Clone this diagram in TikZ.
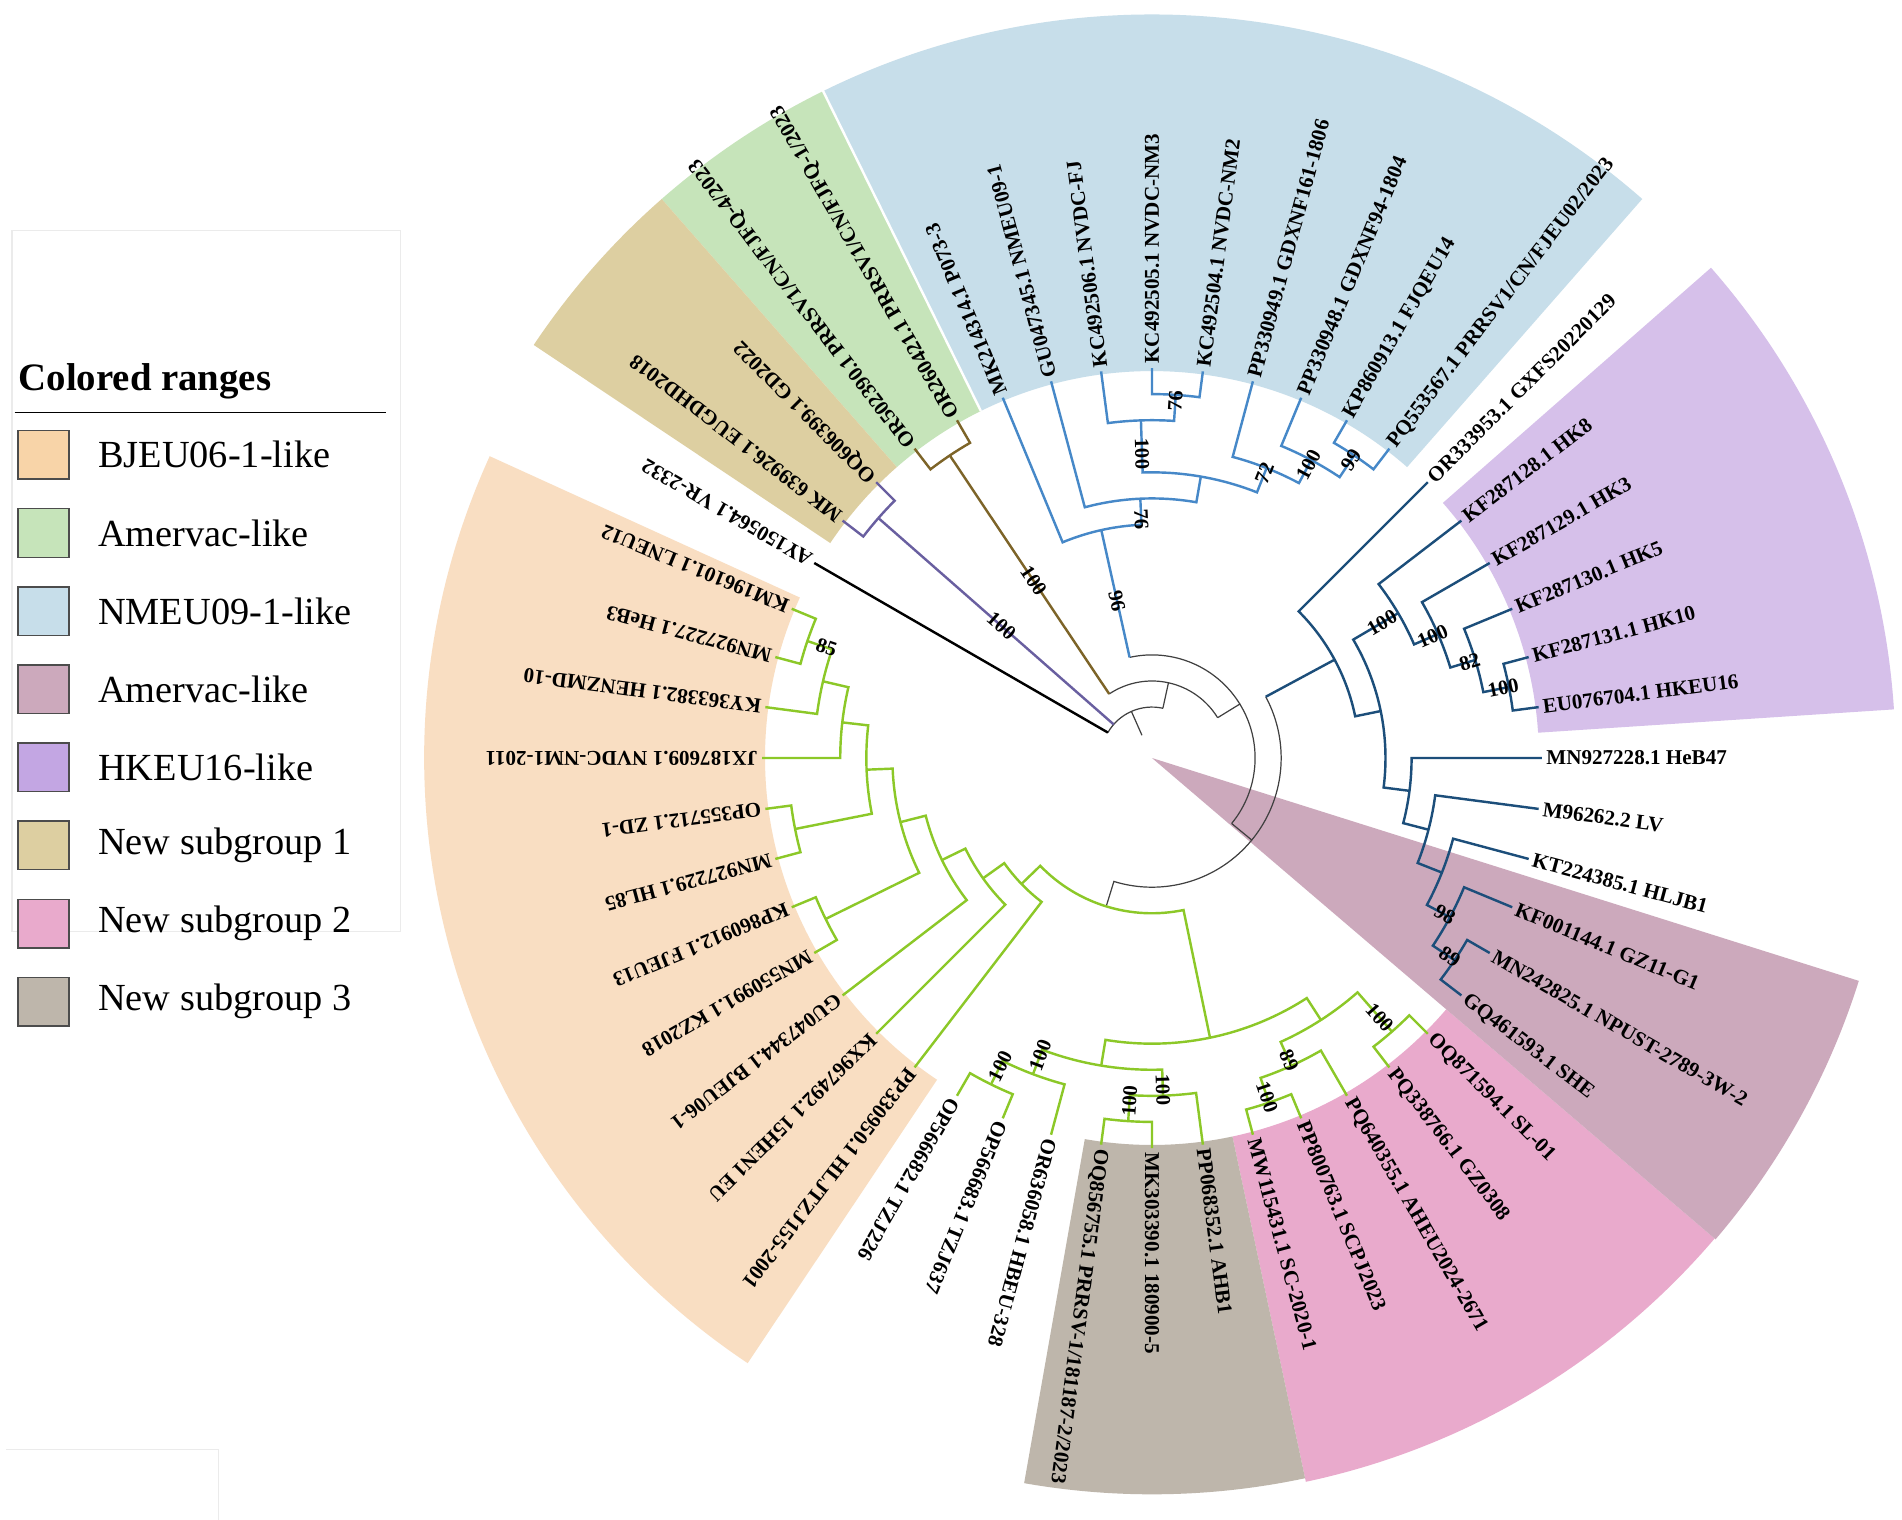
\documentclass[tikz,border=0pt]{standalone}
\usepackage{fontspec}
\setmainfont{Liberation Serif}
\usepackage{tikz}
\usetikzlibrary{positioning}

\definecolor{rangeBjeu}{HTML}{F9DEC2}
\definecolor{rangeAmer}{HTML}{C6E4BA}
\definecolor{rangeNmeu}{HTML}{C7DEEA}
\definecolor{rangeAmerB}{HTML}{CCA9BC}
\definecolor{rangeHkeu}{HTML}{D6C0EA}
\definecolor{rangeSubOne}{HTML}{DDCFA1}
\definecolor{rangeSubTwo}{HTML}{E9AACC}
\definecolor{rangeSubThree}{HTML}{BEB6AB}
\definecolor{keyBjeu}{HTML}{F8D4A8}
\definecolor{keyHkeu}{HTML}{C3A6E3}
\definecolor{lineSubOne}{RGB}{105,95,160}
\definecolor{lineAmer}{RGB}{125,100,40}
\definecolor{lineNmeu}{RGB}{70,136,200}
\definecolor{lineHkeu}{RGB}{28,78,122}
\definecolor{lineBjeu}{RGB}{140,200,40}

\begin{document}
\begin{tikzpicture}[
  x=0.5pt, y=0.5pt,
  trunk/.style={draw=black!75, line width=0.5pt},
  rootTip/.style={draw=black, line width=1pt},
  subOneLine/.style={draw=lineSubOne, line width=1pt},
  amerLine/.style={draw=lineAmer, line width=1pt},
  nmeuLine/.style={draw=lineNmeu, line width=1pt},
  hkeuLine/.style={draw=lineHkeu, line width=1pt},
  bjeuLine/.style={draw=lineBjeu, line width=1pt},
  leaf/.style={anchor=west, inner sep=0.6pt, font=\fontsize{8.7}{10}\selectfont\bfseries},
  boot/.style={inner sep=0pt, font=\fontsize{8.5}{9}\selectfont\bfseries},
  swatch/.style={draw=black!70, line width=0.6pt, minimum width=21pt, minimum height=20pt, inner sep=0pt},
  legendText/.style={anchor=west, inner sep=0pt, font=\fontsize{15.8}{18}\selectfont}
]

\useasboundingbox (-949.7,-628.1) rectangle (618.3,624.9);
\fill[white] (-949.7,-628.1) rectangle (618.3,624.9);

% colored ranges
\fill[rangeNmeu] (48.75:319) -- (48.75:613) arc[start angle=48.75, end angle=116.25, radius=613] -- (116.25:319) arc[start angle=116.25, end angle=48.75, radius=319] -- cycle;
\fill[rangeAmer] (116.25:319) -- (116.25:613) arc[start angle=116.25, end angle=131.25, radius=613] -- (131.25:319) arc[start angle=131.25, end angle=116.25, radius=319] -- cycle;
\fill[rangeSubOne] (131.25:319) -- (131.25:613) arc[start angle=131.25, end angle=146.25, radius=613] -- (146.25:319) arc[start angle=146.25, end angle=131.25, radius=319] -- cycle;
\fill[rangeBjeu] (155.5:319) -- (155.5:600) arc[start angle=155.5, end angle=236.25, radius=600] -- (236.25:319) arc[start angle=236.25, end angle=155.5, radius=319] -- cycle;
\fill[rangeHkeu] (3.75:319) -- (3.75:613) arc[start angle=3.75, end angle=41.25, radius=613] -- (41.25:319) arc[start angle=41.25, end angle=3.75, radius=319] -- cycle;
\fill[rangeSubTwo] (-40.5:319) -- (-40.5:610) arc[start angle=-40.5, end angle=-78, radius=610] -- (-78:319) arc[start angle=-78, end angle=-40.5, radius=319] -- cycle;
\fill[rangeSubThree] (-78:319) -- (-78:607) arc[start angle=-78, end angle=-100, radius=607] -- (-100:319) arc[start angle=-100, end angle=-78, radius=319] -- cycle;
\fill[rangeAmerB] (0,0) -- (-17.5:611) arc[start angle=-17.5, end angle=-40.5, radius=611] -- cycle;
\draw[white, line width=1pt] (116.25:319) -- (116.25:614);

% backbone
\draw[trunk] (113.83:20.5) -- (113.83:42);
\draw[trunk] (150:42) arc[start angle=150, end angle=77.6532, radius=42];
\draw[rootTip] (150:42) -- (150:321.5);
\draw[subOneLine] (138.75:42) -- (138.75:300);
\draw[trunk] (77.6532:42) -- (77.6532:63.5) arc[start angle=77.6532, end angle=31.5564, radius=63.5];
\draw[trunk] (77.6532:63.5) arc[start angle=77.6532, end angle=123.75, radius=63.5];
\draw[amerLine] (123.75:63.5) -- (123.75:300);
\draw[trunk] (31.5564:63.5) -- (31.5564:85) arc[start angle=31.5564, end angle=102.539, radius=85];
\draw[trunk] (31.5564:85) arc[start angle=31.5564, end angle=-39.4263, radius=85];
\draw[nmeuLine] (102.539:85) -- (102.539:192.5);
\draw[trunk] (-39.4263:85) -- (-39.4263:106.5) arc[start angle=-39.4263, end angle=28.3008, radius=106.5];
\draw[trunk] (-39.4263:106.5) arc[start angle=-39.4263, end angle=-107.1533, radius=106.5] -- (-107.1533:128);
\draw[hkeuLine] (28.3008:106.5) -- (28.3008:171);

% new subgroup 1 and Amervac-like
\draw[subOneLine] (142.5:321.5) -- (142.5:300) arc[start angle=142.5, end angle=135, radius=300] -- (135:321.5);
\draw[amerLine] (127.5:321.5) -- (127.5:300) arc[start angle=127.5, end angle=120, radius=300] -- (120:321.5);

% NMEU09-1-like clade
\draw[nmeuLine] (90:321.5) -- (90:300) arc[start angle=90, end angle=82.5, radius=300] -- (82.5:321.5);
\draw[nmeuLine] (97.5:321.5) -- (97.5:278.5) arc[start angle=97.5, end angle=86.25, radius=278.5] -- (86.25:300);
\draw[nmeuLine] (60:321.5) -- (60:300) arc[start angle=60, end angle=52.5, radius=300] -- (52.5:321.5);
\draw[nmeuLine] (67.5:321.5) -- (67.5:278.5) arc[start angle=67.5, end angle=56.25, radius=278.5] -- (56.25:300);
\draw[nmeuLine] (75:321.5) -- (75:257) arc[start angle=75, end angle=61.875, radius=257] -- (61.875:278.5);
\draw[nmeuLine] (91.875:278.5) -- (91.875:235.5) arc[start angle=91.875, end angle=68.4375, radius=235.5] -- (68.4375:257);
\draw[nmeuLine] (105:321.5) -- (105:214) arc[start angle=105, end angle=80.1563, radius=214] -- (80.1563:235.5);
\draw[nmeuLine] (112.5:321.5) -- (112.5:192.5) arc[start angle=112.5, end angle=92.5781, radius=192.5] -- (92.5781:214);

% HKEU16 and LV side
\draw[hkeuLine] (15:321.5) -- (15:300) arc[start angle=15, end angle=7.5, radius=300] -- (7.5:321.5);
\draw[hkeuLine] (22.5:321.5) -- (22.5:278.5) arc[start angle=22.5, end angle=11.25, radius=278.5] -- (11.25:300);
\draw[hkeuLine] (30:321.5) -- (30:257) arc[start angle=30, end angle=16.875, radius=257] -- (16.875:278.5);
\draw[hkeuLine] (37.5:321.5) -- (37.5:235.5) arc[start angle=37.5, end angle=23.4375, radius=235.5] -- (23.4375:257);
\draw[hkeuLine] (-30:321.5) -- (-30:300) arc[start angle=-30, end angle=-37.5, radius=300] -- (-37.5:321.5);
\draw[hkeuLine] (-22.5:321.5) -- (-22.5:278.5) arc[start angle=-22.5, end angle=-33.75, radius=278.5] -- (-33.75:300);
\draw[hkeuLine] (-15:321.5) -- (-15:257) arc[start angle=-15, end angle=-28.125, radius=257] -- (-28.125:278.5);
\draw[hkeuLine] (-7.5:321.5) -- (-7.5:235.5) arc[start angle=-7.5, end angle=-21.5625, radius=235.5] -- (-21.5625:257);
\draw[hkeuLine] (0:321.5) -- (0:214) arc[start angle=0, end angle=-14.5313, radius=214] -- (-14.5313:235.5);
\draw[hkeuLine] (30.4688:235.5) -- (30.4688:192.5) arc[start angle=30.4688, end angle=-7.2656, radius=192.5] -- (-7.2656:214);
\draw[hkeuLine] (45:321.5) -- (45:171) arc[start angle=45, end angle=11.6016, radius=171] -- (11.6016:192.5);

% BJEU06-1-like and new subgroups 2, 3
\draw[bjeuLine] (-45:321.5) -- (-45:300) arc[start angle=-45, end angle=-52.5, radius=300] -- (-52.5:321.5);
\draw[bjeuLine] (-67.5:321.5) -- (-67.5:300) arc[start angle=-67.5, end angle=-75, radius=300] -- (-75:321.5);
\draw[bjeuLine] (-60:321.5) -- (-60:278.5) arc[start angle=-60, end angle=-71.25, radius=278.5] -- (-71.25:300);
\draw[bjeuLine] (-48.75:300) -- (-48.75:257) arc[start angle=-48.75, end angle=-65.625, radius=257] -- (-65.625:278.5);
\draw[bjeuLine] (-90:321.5) -- (-90:300) arc[start angle=-90, end angle=-97.5, radius=300] -- (-97.5:321.5);
\draw[bjeuLine] (-82.5:321.5) -- (-82.5:278.5) arc[start angle=-82.5, end angle=-93.75, radius=278.5] -- (-93.75:300);
\draw[bjeuLine] (-112.5:321.5) -- (-112.5:300) arc[start angle=-112.5, end angle=-120, radius=300] -- (-120:321.5);
\draw[bjeuLine] (-105:321.5) -- (-105:278.5) arc[start angle=-105, end angle=-116.25, radius=278.5] -- (-116.25:300);
\draw[bjeuLine] (-88.125:278.5) -- (-88.125:257) arc[start angle=-88.125, end angle=-110.625, radius=257] -- (-110.625:278.5);
\draw[bjeuLine] (-57.1875:257) -- (-57.1875:235.5) arc[start angle=-57.1875, end angle=-99.375, radius=235.5] -- (-99.375:257);
\draw[bjeuLine] (-195:321.5) -- (-195:300) arc[start angle=-195, end angle=-202.5, radius=300] -- (-202.5:321.5);
\draw[bjeuLine] (-187.5:321.5) -- (-187.5:278.5) arc[start angle=-187.5, end angle=-198.75, radius=278.5] -- (-198.75:300);
\draw[bjeuLine] (-180:321.5) -- (-180:257) arc[start angle=-180, end angle=-193.125, radius=257] -- (-193.125:278.5);
\draw[bjeuLine] (-172.5:321.5) -- (-172.5:300) arc[start angle=-172.5, end angle=-165, radius=300] -- (-165:321.5);
\draw[bjeuLine] (-168.75:300) -- (-168.75:235.5) arc[start angle=-168.75, end angle=-186.5625, radius=235.5] -- (-186.5625:257);
\draw[bjeuLine] (-157.5:321.5) -- (-157.5:300) arc[start angle=-157.5, end angle=-150, radius=300] -- (-150:321.5);
\draw[bjeuLine] (-153.75:300) -- (-153.75:214) arc[start angle=-153.75, end angle=-177.6563, radius=214] -- (-177.6563:235.5);
\draw[bjeuLine] (-142.5:321.5) -- (-142.5:192.5) arc[start angle=-142.5, end angle=-165.7031, radius=192.5] -- (-165.7031:214);
\draw[bjeuLine] (-135:321.5) -- (-135:171) arc[start angle=-135, end angle=-154.1016, radius=171] -- (-154.1016:192.5);
\draw[bjeuLine] (-127.5:321.5) -- (-127.5:149.5) arc[start angle=-127.5, end angle=-144.5508, radius=149.5] -- (-144.5508:171);
\draw[bjeuLine] (-136.0254:149.5) -- (-136.0254:128) arc[start angle=-136.0254, end angle=-78.2813, radius=128] -- (-78.2813:235.5);

% leaf labels
\node[leaf, rotate=150] (leafAy150564) at (150:323.5) {AY150564.1 VR-2332};
\node[leaf, rotate=142.5] (leafMk639926) at (142.5:323.5) {MK 639926.1 EUGDHD2018};
\node[leaf, rotate=135] (leafOq606399) at (135:323.5) {OQ606399.1 GD2022};
\node[leaf, rotate=127.5] (leafOr502390) at (127.5:323.5) {OR502390.1 PRRSV1/CN/FJFQ-4/2023};
\node[leaf, rotate=120] (leafOr260421) at (120:323.5) {OR260421.1 PRRSV1/CN/FJFQ-1/2023};
\node[leaf, rotate=112.5] (leafMk214314) at (112.5:323.5) {MK214314.1 P073-3};
\node[leaf, rotate=105] (leafGu047345) at (105:323.5) {GU047345.1 NMEU09-1};
\node[leaf, rotate=97.5] (leafKc492506) at (97.5:323.5) {KC492506.1 NVDC-FJ};
\node[leaf, rotate=90] (leafKc492505) at (90:323.5) {KC492505.1 NVDC-NM3};
\node[leaf, rotate=82.5] (leafKc492504) at (82.5:323.5) {KC492504.1 NVDC-NM2};
\node[leaf, rotate=75] (leafPp330949) at (75:323.5) {PP330949.1 GDXNF161-1806};
\node[leaf, rotate=67.5] (leafPp330948) at (67.5:323.5) {PP330948.1 GDXNF94-1804};
\node[leaf, rotate=60] (leafKp860913) at (60:323.5) {KP860913.1 FJQEU14};
\node[leaf, rotate=52.5] (leafPq553567) at (52.5:323.5) {PQ553567.1 PRRSV1/CN/FJEU02/2023};
\node[leaf, rotate=45] (leafOr333953) at (45:323.5) {OR333953.1 GXFS20220129};
\node[leaf, rotate=37.5] (leafKf287128) at (37.5:323.5) {KF287128.1 HK8};
\node[leaf, rotate=30] (leafKf287129) at (30:323.5) {KF287129.1 HK3};
\node[leaf, rotate=22.5] (leafKf287130) at (22.5:323.5) {KF287130.1 HK5};
\node[leaf, rotate=15] (leafKf287131) at (15:323.5) {KF287131.1 HK10};
\node[leaf, rotate=7.5] (leafEu076704) at (7.5:323.5) {EU076704.1 HKEU16};
\node[leaf, rotate=0] (leafMn927228) at (0:323.5) {MN927228.1 HeB47};
\node[leaf, rotate=-7.5] (leafM96262) at (-7.5:323.5) {M96262.2 LV};
\node[leaf, rotate=-15] (leafKt224385) at (-15:323.5) {KT224385.1 HLJB1};
\node[leaf, rotate=-22.5] (leafKf001144) at (-22.5:323.5) {KF001144.1 GZ11-G1};
\node[leaf, rotate=-30] (leafMn242825) at (-30:323.5) {MN242825.1 NPUST-2789-3W-2};
\node[leaf, rotate=-37.5] (leafGq461593) at (-37.5:323.5) {GQ461593.1 SHE};
\node[leaf, rotate=-45] (leafOq871594) at (-45:323.5) {OQ871594.1 SL-01};
\node[leaf, rotate=-52.5] (leafPq338766) at (-52.5:323.5) {PQ338766.1 GZ0308};
\node[leaf, rotate=-60] (leafPq640355) at (-60:323.5) {PQ640355.1 AHEU2024-2671};
\node[leaf, rotate=-67.5] (leafPp800763) at (-67.5:323.5) {PP800763.1 SCPJ2023};
\node[leaf, rotate=-75] (leafMw115431) at (-75:323.5) {MW115431.1 SC-2020-1};
\node[leaf, rotate=-82.5] (leafPp068352) at (-82.5:323.5) {PP068352.1 AHB1};
\node[leaf, rotate=-90] (leafMk303390) at (-90:323.5) {MK303390.1 180900-5};
\node[leaf, rotate=-97.5] (leafOq856755) at (-97.5:323.5) {OQ856755.1 PRRSV-1/181187-2/2023};
\node[leaf, rotate=-105] (leafOr636058) at (-105:323.5) {OR636058.1 HBEU-328};
\node[leaf, rotate=-112.5] (leafOp566683) at (-112.5:323.5) {OP566683.1 TZJ637};
\node[leaf, rotate=-120] (leafOp566682) at (-120:323.5) {OP566682.1 TZJ226};
\node[leaf, rotate=-127.5] (leafPp330950) at (-127.5:323.5) {PP330950.1 HLJTZJ155-2001};
\node[leaf, rotate=-135] (leafKx967492) at (-135:323.5) {KX967492.1 15HEN1 EU};
\node[leaf, rotate=-142.5] (leafGu047344) at (-142.5:323.5) {GU047344.1 BJEU06-1};
\node[leaf, rotate=-150] (leafMn550991) at (-150:323.5) {MN550991.1 KZ2018};
\node[leaf, rotate=-157.5] (leafKp860912) at (-157.5:323.5) {KP860912.1 FJEU13};
\node[leaf, rotate=-165] (leafMn927229) at (-165:323.5) {MN927229.1 HL85};
\node[leaf, rotate=-172.5] (leafOp355712) at (-172.5:323.5) {OP355712.1 ZD-1};
\node[leaf, rotate=-180] (leafJx187609) at (-180:323.5) {JX187609.1 NVDC-NM1-2011};
\node[leaf, rotate=-187.5] (leafKy363382) at (-187.5:323.5) {KY363382.1 HENZMD-10};
\node[leaf, rotate=-195] (leafMn927227) at (-195:323.5) {MN927227.1 HeB3};
\node[leaf, rotate=-202.5] (leafKm196101) at (-202.5:323.5) {KM196101.1 LNEU12};

% bootstrap values
\node[boot, rotate=-41.25] (bootSubOne) at (138.75:165) {100};
\node[boot, rotate=-56.25] (bootAmer) at (123.75:175.75) {100};
\node[boot, rotate=-77.46] (bootNmeu) at (102.54:132.75) {96};
\node[boot, rotate=-87.42] (bootNmeuB) at (92.58:197.25) {76};
\node[boot, rotate=-88.13] (bootKcA) at (91.875:251) {100};
\node[boot, rotate=86.25] (bootKcB) at (86.25:295.25) {76};
\node[boot, rotate=68.44] (bootPpA) at (68.44:252.25) {72};
\node[boot, rotate=61.88] (bootPpB) at (61.875:273.75) {100};
\node[boot, rotate=56.25] (bootPpC) at (56.25:295.25) {99};
\node[boot, rotate=30.47] (bootHkA) at (30.47:220) {100};
\node[boot, rotate=23.44] (bootHkB) at (23.44:252.25) {100};
\node[boot, rotate=16.88] (bootHkC) at (16.875:273.75) {82};
\node[boot, rotate=11.25] (bootHkD) at (11.25:295.25) {100};
\node[boot, rotate=-28.13] (bootLvA) at (-28.125:273.75) {98};
\node[boot, rotate=-33.75] (bootLvB) at (-33.75:295.25) {89};
\node[boot, rotate=-48.75] (bootSubTwoA) at (-48.75:284.5) {100};
\node[boot, rotate=-65.63] (bootSubTwoB) at (-65.625:273.75) {89};
\node[boot, rotate=-71.25] (bootSubTwoC) at (-71.25:295.25) {100};
\node[boot, rotate=-88.13] (bootSubThreeA) at (-88.125:273.75) {100};
\node[boot, rotate=86.25] (bootSubThreeB) at (-93.75:283.25) {100};
\node[boot, rotate=69.38] (bootTzjA) at (-110.625:261.75) {100};
\node[boot, rotate=63.75] (bootTzjB) at (-116.25:283.25) {100};
\node[boot, rotate=-18.75] (bootBjeu) at (161.25:283.25) {85};

% legend
\draw[black!8, line width=0.6pt] (-939.7,434.9) rectangle (-619.7,-143.1);
\draw[black!8, line width=0.6pt] (-944.7,-570.1) -- (-769.7,-570.1) -- (-769.7,-628.1);
\node[anchor=base west, inner sep=0pt, font=\fontsize{16}{19}\selectfont\bfseries] (legTitle) at (-934.7,302.9) {Colored ranges};
\draw[black, line width=0.6pt] (-937.7,284.9) -- (-631.7,284.9);

\node[swatch, fill=keyBjeu] (keyBjeu) at (-913.7,249.9) {};
\node[swatch, fill=rangeAmer, below=11.6pt of keyBjeu] (keyAmer) {};
\node[swatch, fill=rangeNmeu, below=11.6pt of keyAmer] (keyNmeu) {};
\node[swatch, fill=rangeAmerB, below=11.6pt of keyNmeu] (keyAmerB) {};
\node[swatch, fill=keyHkeu, below=11.6pt of keyAmerB] (keyHkeu) {};
\node[swatch, fill=rangeSubOne, below=11.6pt of keyHkeu] (keySubOne) {};
\node[swatch, fill=rangeSubTwo, below=11.6pt of keySubOne] (keySubTwo) {};
\node[swatch, fill=rangeSubThree, below=11.6pt of keySubTwo] (keySubThree) {};

\node[legendText, right=11.5pt of keyBjeu] (txtBjeu) {BJEU06-1-like};
\node[legendText, right=11.5pt of keyAmer] (txtAmer) {Amervac-like};
\node[legendText, right=11.5pt of keyNmeu] (txtNmeu) {NMEU09-1-like};
\node[legendText, right=11.5pt of keyAmerB] (txtAmerB) {Amervac-like};
\node[legendText, right=11.5pt of keyHkeu] (txtHkeu) {HKEU16-like};
\node[legendText, right=11.5pt of keySubOne] (txtSubOne) {New subgroup 1};
\node[legendText, right=11.5pt of keySubTwo] (txtSubTwo) {New subgroup 2};
\node[legendText, right=11.5pt of keySubThree] (txtSubThree) {New subgroup 3};

\end{tikzpicture}
\end{document}
